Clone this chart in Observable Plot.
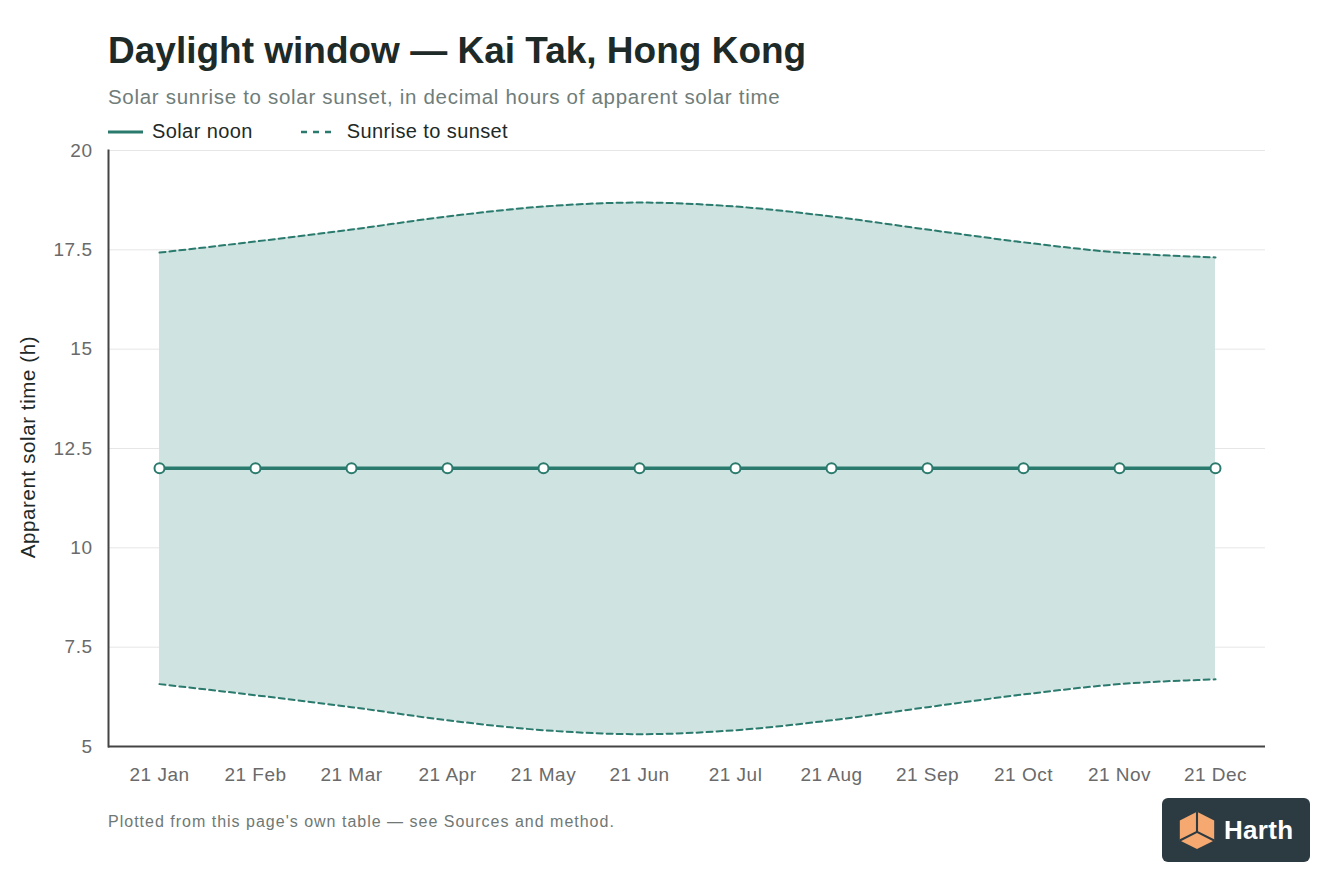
<!DOCTYPE html>
<html>
<head>
<meta charset="utf-8">
<script src="https://cdn.jsdelivr.net/npm/d3@7"></script>
<script src="https://cdn.jsdelivr.net/npm/@observablehq/plot@0.6"></script>
<style>
  html, body { margin: 0; padding: 0; background: #fff; }
  body { width: 1344px; height: 896px; position: relative; overflow: hidden; font-family: "Liberation Sans", Arial, Helvetica, sans-serif; }
  .title { position: absolute; left: 108px; top: 30px; font-size: 37px; font-weight: bold; color: #1d2a27; }
  .subtitle { position: absolute; left: 108px; top: 85px; font-size: 20.5px; letter-spacing: 0.7px; color: #6f7d7a; }
  .legend { position: absolute; left: 108px; top: 120px; font-size: 20px; letter-spacing: 0.4px; color: #1d2a27; display: flex; align-items: center; }
  .legend .item { display: flex; align-items: center; }
  .legend svg { margin-right: 9px; }
  .ylab { position: absolute; left: 28px; top: 447px; transform: translate(-50%, -50%) rotate(-90deg); font-size: 20.5px; letter-spacing: 0.6px; color: #1d2a27; white-space: nowrap; }
  #chart { position: absolute; left: 0; top: 140px; }
  .footer { position: absolute; left: 108px; top: 813px; font-size: 16px; letter-spacing: 1px; color: #6f7875; }
  .logo { position: absolute; left: 1162px; top: 798px; width: 148px; height: 64px; background: #2c3a42; border-radius: 6px; display: flex; align-items: center; }
  .logo span { color: #fff; font-weight: bold; font-size: 26px; margin-left: 6px; letter-spacing: 0.3px; }
</style>
</head>
<body>
<div class="title">Daylight window — Kai Tak, Hong Kong</div>
<div class="subtitle">Solar sunrise to solar sunset, in decimal hours of apparent solar time</div>
<div class="legend">
  <div class="item" style="margin-right:48px"><svg width="35" height="10"><line x1="0" y1="5" x2="35" y2="5" stroke="#2b7a6e" stroke-width="3"/></svg>Solar noon</div>
  <div class="item"><svg width="34" height="10" style="margin-right:12px"><line x1="0" y1="5" x2="34" y2="5" stroke="#2b7a6e" stroke-width="2.5" stroke-dasharray="6,6"/></svg>Sunrise to sunset</div>
</div>
<div class="ylab">Apparent solar time (h)</div>
<div id="chart"></div>
<div class="footer">Plotted from this page's own table — see Sources and method.</div>
<div class="logo">
  <svg width="42" height="42" viewBox="0 0 44 44" style="margin-left:14px">
    <polygon points="22,3 40,12 40,33 22,42 4,33 4,12" fill="#f5a86f"/>
    <polyline points="22,3 22,24" stroke="#2c3a42" stroke-width="2.2" fill="none"/>
    <polyline points="4,33 22,24 40,33" stroke="#2c3a42" stroke-width="2.2" fill="none"/>
  </svg>
  <span>Harth</span>
</div>
<script>
const dates = ["21 Jan","21 Feb","21 Mar","21 Apr","21 May","21 Jun","21 Jul","21 Aug","21 Sep","21 Oct","21 Nov","21 Dec"];
const sunrise = [6.57, 6.29, 5.99, 5.66, 5.41, 5.31, 5.41, 5.66, 5.99, 6.31, 6.57, 6.69];
const sunset  = [17.43, 17.71, 18.01, 18.34, 18.59, 18.69, 18.59, 18.34, 18.01, 17.69, 17.43, 17.31];
const noon    = [12, 12, 12, 12, 12, 12, 12, 12, 12, 12, 12, 12];
const yTicks  = [5, 7.5, 10, 12.5, 15, 17.5, 20];

const data = dates.map((d, i) => ({date: d, sunrise: sunrise[i], sunset: sunset[i], noon: noon[i]}));
const teal = "#2b7a6e";

const chart = Plot.plot({
  width: 1344,
  height: 660,
  marginLeft: 108,
  marginRight: 79,
  marginTop: 10,
  marginBottom: 54,
  style: {fontFamily: "'Liberation Sans', Arial, sans-serif", fontSize: "19px", color: "#6a6a6a", background: "transparent", letterSpacing: "0.5px"},
  x: {type: "point", domain: dates, padding: 0.5, label: null},
  y: {domain: [5, 20], ticks: yTicks, label: null},
  marks: [
    Plot.gridY(yTicks, {stroke: "#e6e6e6", strokeOpacity: 1, strokeWidth: 1}),
    Plot.areaY(data, {x: "date", y1: "sunrise", y2: "sunset", fill: "#cfe4e0", fillOpacity: 1, curve: "monotone-x"}),
    Plot.lineY(data, {x: "date", y: "sunset", stroke: teal, strokeWidth: 2, strokeDasharray: "6,4", curve: "monotone-x"}),
    Plot.lineY(data, {x: "date", y: "sunrise", stroke: teal, strokeWidth: 2, strokeDasharray: "6,4", curve: "monotone-x"}),
    Plot.lineY(data, {x: "date", y: "noon", stroke: teal, strokeWidth: 3.5}),
    Plot.dot(data, {x: "date", y: "noon", r: 5, fill: "white", stroke: teal, strokeWidth: 2}),
    Plot.axisY(yTicks, {tickSize: 0, tickPadding: 16, fontSize: 19, fill: "#6a6a6a", tickFormat: d => String(d)}),
    Plot.axisX(dates, {tickSize: 0, tickPadding: 21, fontSize: 19, fill: "#6a6a6a"}),
    Plot.ruleY([5], {stroke: "#444", strokeWidth: 2}),
    Plot.frame({anchor: "left", stroke: "#444", strokeWidth: 2})
  ]
});
document.getElementById("chart").appendChild(chart);
</script>
</body>
</html>
